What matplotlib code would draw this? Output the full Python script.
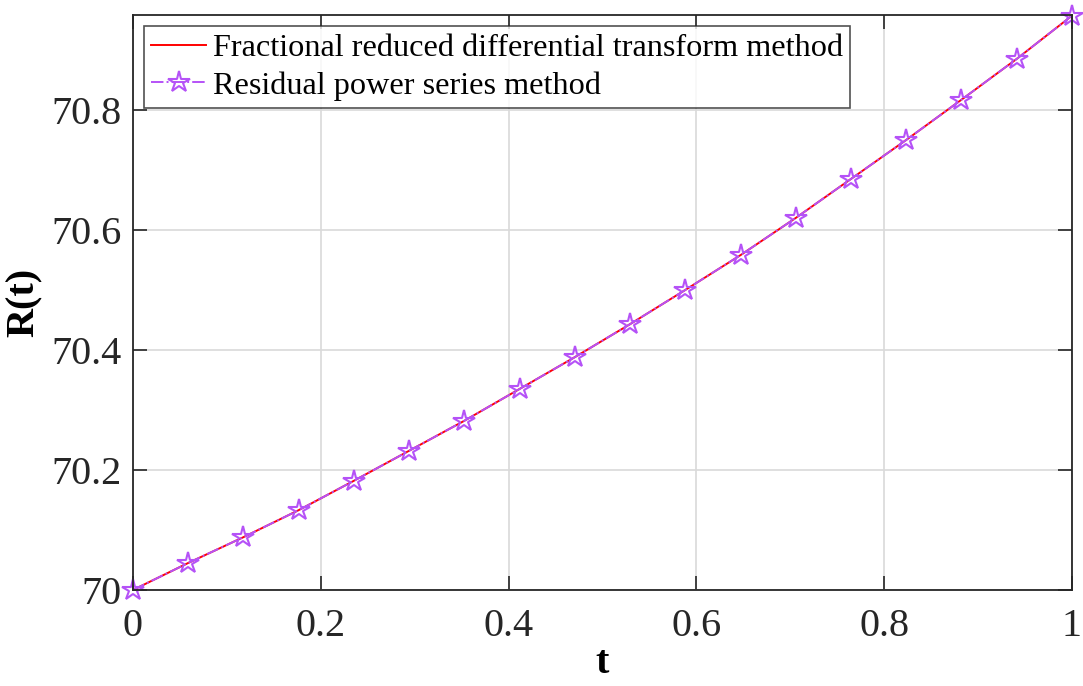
import numpy as np
import matplotlib
matplotlib.use("Agg")
import matplotlib.pyplot as plt

plt.rcParams['font.family'] = ['Liberation Serif', 'DejaVu Serif']
plt.rcParams['mathtext.fontset'] = 'stix'

# solution values at t = k/17
t = np.arange(18) / 17
R_frdtm = [70.000, 70.045, 70.088, 70.133, 70.182, 70.232, 70.282, 70.335, 70.388,
           70.443, 70.500, 70.558, 70.620, 70.685, 70.750, 70.817, 70.885, 70.957]
R_rpsm = [70.000, 70.045, 70.088, 70.133, 70.182, 70.232, 70.282, 70.335, 70.388,
          70.443, 70.500, 70.558, 70.620, 70.685, 70.750, 70.817, 70.885, 70.957]

xticks = [0, 0.2, 0.4, 0.6, 0.8, 1]
yticks = [70, 70.2, 70.4, 70.6, 70.8]

fig = plt.figure(figsize=(10.83, 6.86), dpi=100)
ax = fig.add_axes([0.1228, 0.14, 0.867, 0.838])

ax.plot(t, R_frdtm, color='red', lw=1.4, label='Fractional reduced differential transform method')
ax.plot(t, R_rpsm, color='#b552f7', lw=1.4, ls='-.', marker='*', ms=16,
        mfc='none', mec='#b552f7', mew=1.5, clip_on=False,
        label='Residual power series method')

ax.set_xlim(0, 1)
ax.set_ylim(70, 70.958)
ax.set_xticks(xticks)
ax.set_xticklabels(['0', '0.2', '0.4', '0.6', '0.8', '1'])
ax.set_yticks(yticks)
ax.set_yticklabels(['70', '70.2', '70.4', '70.6', '70.8'])
ax.tick_params(direction='in', length=10, width=1.2, labelsize=29, top=True, right=True,
               colors='#262626')
ax.tick_params(axis='x', pad=13)
ax.tick_params(axis='y', pad=8)
for s in ax.spines.values():
    s.set_linewidth(1.3)
    s.set_color('#262626')
ax.grid(True, color='#d9d9d9', lw=1.2)
ax.set_axisbelow(True)

ax.set_xlabel('t', fontsize=29, fontweight='bold', labelpad=0)
ax.set_ylabel('R(t)', fontsize=29, fontweight='bold', labelpad=6)

leg = ax.legend(loc='upper left', fontsize=23.2, frameon=True, fancybox=False,
                edgecolor='#262626', handlelength=1.7, handletextpad=0.2,
                borderpad=0.22, labelspacing=0.25, borderaxespad=0.35)
leg.get_frame().set_linewidth(1.2)

fig.savefig('out.png', dpi=100, facecolor='white')
